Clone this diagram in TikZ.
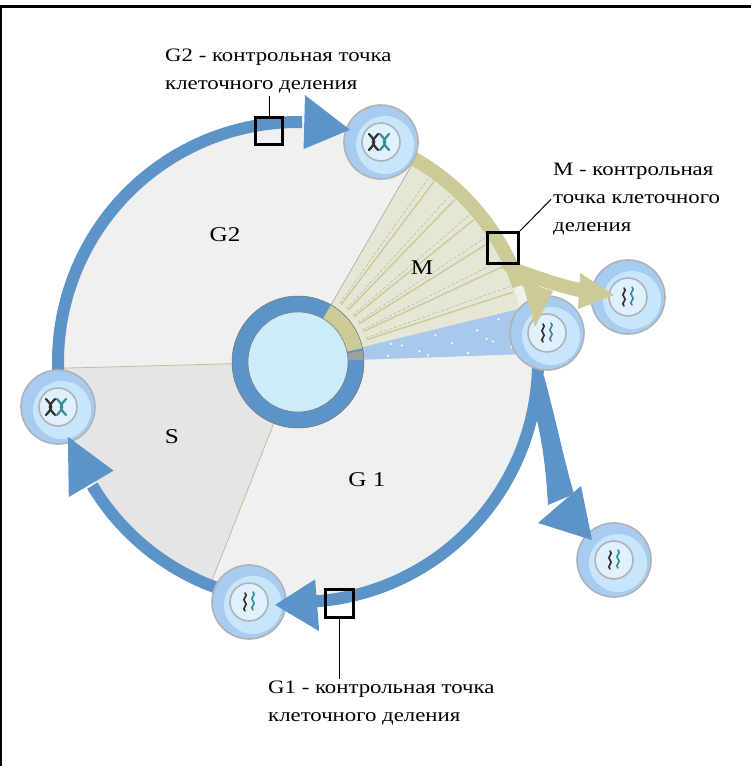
\documentclass[tikz,border=0pt]{standalone}
\usepackage{fontspec}
\setmainfont{Liberation Serif}[FakeStretch=1.2]
\usepackage{tikz}
\usetikzlibrary{calc}
\definecolor{ringblue}{RGB}{92,148,200}
\definecolor{khaki}{RGB}{204,202,150}
\definecolor{fanfill}{RGB}{230,230,212}
\definecolor{diskfill}{RGB}{240,240,240}
\definecolor{sfill}{RGB}{229,229,229}
\definecolor{hubin}{RGB}{204,236,252}
\definecolor{bandblue}{RGB}{168,200,236}
\definecolor{cellout}{RGB}{168,204,240}
\definecolor{cellmid}{RGB}{200,230,251}
\definecolor{cellin}{RGB}{222,241,253}
\definecolor{cellrim}{RGB}{176,178,182}
\definecolor{chromdark}{RGB}{50,50,45}
\definecolor{chromteal}{RGB}{60,140,150}
\newcommand{\cellbody}{%
    \fill[cellout] (0,0) circle (37);
    \fill[cellmid] (4,-3) circle (29);
    \draw[cellrim, line width=1.6pt] (0,0) circle (37);
    \draw[cellrim, line width=1.6pt, fill=cellin] (0,0) circle (19);
}
\newcommand{\drawxx}{%
    \draw[chromdark, line width=2.2pt, line cap=round] (-12,8) .. controls (-5,0) .. (-12,-8) (-3,8) .. controls (-10,0) .. (-3,-8);
    \draw[chromteal, line width=2.2pt, line cap=round] (-1,8) .. controls (6,0) .. (-1,-8) (8,8) .. controls (1,0) .. (8,-8);
}
\newcommand{\drawwaves}{%
    \draw[chromdark, line width=1.6pt, line cap=round] (-4,9) .. controls (0,6) and (-8,3) .. (-4,0) .. controls (0,-3) and (-8,-6) .. (-4,-9);
    \draw[chromteal, line width=1.6pt, line cap=round] (4,10) .. controls (8,7) and (0,4) .. (4,1) .. controls (8,-2) and (0,-5) .. (4,-8);
}
\tikzset{
    ring/.style={draw=ringblue, line width=12pt},
    khakiring/.style={draw=khaki, line width=14pt},
    checkbox/.style={draw=black, line width=3pt, inner sep=0pt},
    phase/.style={font=\fontsize{21}{25}\selectfont},
    note/.style={font=\fontsize{19}{28}\selectfont, align=left, inner sep=2pt},
    pics/cellx/.style={code={\cellbody \drawxx}},
    pics/cellw/.style={code={\cellbody \drawwaves}},
}

\begin{document}
\begin{tikzpicture}[x=1pt, y=1pt]
    \useasboundingbox (0,0) rectangle (751,-766);
    %draw frame
    \draw[line width=3pt] (0,-6.5) -- (751,-6.5);
    \draw[line width=2.5pt] (1,-5) -- (1,-766);
    \begin{scope}[shift={(298,-362)}]
        %draw disk and S sector
        \fill[diskfill] (0,0) circle (240);
        \fill[sfill] (181.5:66) -- (181.5:236) arc[start angle=181.5, end angle=248.5, radius=236] -- (248.5:66) arc[start angle=248.5, end angle=181.5, radius=66] -- cycle;
        \draw[khaki!85!gray, line width=0.8pt] (181.5:66) -- (181.5:236) (248.5:66) -- (248.5:236);
        %draw M fan
        \fill[fanfill] (13:66) -- (13:228) arc[start angle=13, end angle=60, radius=228] -- (60:66) arc[start angle=60, end angle=13, radius=66] -- cycle;
        \draw[gray!70, line width=0.6pt] (60:66) -- (60:230);
        \foreach \a in {18,25,32,39,46,53} {
            \draw[khaki, line width=1.4pt] (\a:72) -- (\a:226);
            \draw[gray!55, densely dashed, line width=0.6pt] ({\a+1.6}:72) -- ({\a+1.6}:226);
        }
        %draw blue band
        \fill[bandblue] (2:66) -- (2:238) arc[start angle=2, end angle=13.5, radius=238] -- (13:66) arc[start angle=13, end angle=2, radius=66] -- cycle;
        \foreach \a/\r in {4/90,9/105,5/122,11/140,7/155,3/170,10/182,6/196,12/205,4/214,8/222,3/130,11/95,7/190,9/230} {
            \fill[white] (\a:\r) circle (1.2);
        }
        %draw hub
        \fill[ringblue] (0,0) circle (66);
        \fill[khaki] (12:66) arc[start angle=12, end angle=60, radius=66] -- (60:50) arc[start angle=60, end angle=12, radius=50] -- cycle;
        \fill[gray!75] (2:66) arc[start angle=2, end angle=10, radius=66] -- (10:50) arc[start angle=10, end angle=2, radius=50] -- cycle;
        \draw[gray!90!black, line width=0.5pt] (0,0) circle (66);
        \draw[gray!90!black, line width=0.5pt, fill=hubin] (0,0) circle (50);
        %draw ring pieces
        \draw[ring] (258:240) arc[start angle=258, end angle=211, radius=240];
        \draw[ring] (191:240) arc[start angle=191, end angle=89, radius=240];
        \draw[ring] (6:240) arc[start angle=6, end angle=-86, radius=240];
        \draw[khakiring] (63:234) arc[start angle=63, end angle=19, radius=234];
    \end{scope}
    %draw blue branch to the dividing cell
    \fill[ringblue] (530,-395) .. controls (542,-432) and (546,-470) .. (548,-505) -- (574,-494) .. controls (564,-460) and (556,-420) .. (544,-376) -- cycle;
    %draw khaki branches
    \draw[khaki, line width=14pt] (510,-268) .. controls (540,-279) and (560,-286) .. (584,-291);
    \draw[khaki, line width=13pt] (505,-262) .. controls (520,-275) .. (536,-289);
    %draw cells
    \pic at (381,-142) {cellx};
    \pic at (58,-407) {cellx};
    \pic at (249,-602) {cellw};
    \pic at (547,-333) {cellw};
    \pic at (628,-297) {cellw};
    \pic at (614,-560) {cellw};
    %draw arrow heads
    \begin{scope}[shift={(298,-362)}]
        \fill[ringblue] (88.5:213) -- (88.5:267) -- (77.4:238) -- cycle;
        \fill[ringblue] (210.5:214) -- (210.5:266) -- (198:242) -- cycle;
        \fill[ringblue] (274.5:218) -- (274.5:270) -- (264.6:244) -- cycle;
    \end{scope}
    \fill[ringblue] (538,-523) -- (592,-540) -- (581,-486) -- cycle;
    \fill[khaki] (580,-273) -- (614,-295) -- (578,-309) -- cycle;
    \fill[khaki] (522,-281) -- (553,-291) -- (535,-327) -- cycle;
    %draw phase names
    \node[phase] (g2) at (225,-235) {G2};
    \node[phase] (m) at (422,-268) {M};
    \node[phase] (s) at (172,-437) {S};
    \node[phase] (g1) at (367,-480) {G 1};
    %draw checkpoints
    \node[checkbox, minimum size=27pt] (g2box) at (269,-131) {};
    \node[checkbox, minimum size=31pt] (mbox) at (503,-248) {};
    \node[checkbox, minimum size=28pt] (g1box) at (339,-603) {};
    \node[note, anchor=north west] (g2lbl) at (163,-47) {G2 - контрольная точка\\клеточного деления};
    \node[note, anchor=north west] (mlbl) at (551,-161) {M - контрольная\\точка клеточного\\деления};
    \node[note, anchor=north west] (g1lbl) at (266,-679) {G1 - контрольная точка\\клеточного деления};
    \draw[line width=1pt] (g2box.north) -- (g2box.north |- g2lbl.south);
    \draw[line width=1pt] (mbox.north east) -- (mlbl.west);
    \draw[line width=1pt] (g1box.south) -- (g1box.south |- g1lbl.north);
\end{tikzpicture}
\end{document}
